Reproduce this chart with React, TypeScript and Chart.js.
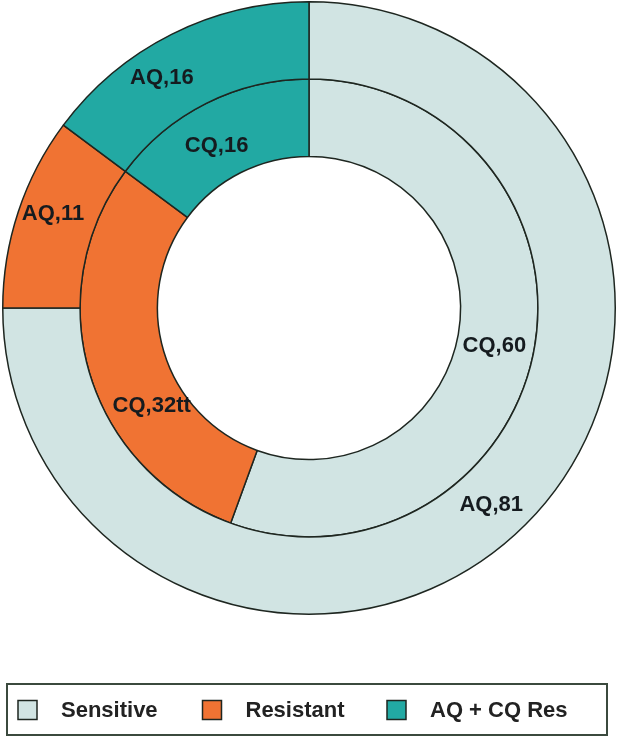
import React, { useEffect, useRef } from 'react';
import { Chart, registerables } from 'chart.js';

Chart.register(...registerables);

// segment categories (legend order)
const categories = ['Sensitive', 'Resistant', 'AQ + CQ Res'];
// outer ring = AQ, inner ring = CQ
const aqValues = [81, 11, 16];
const cqValues = [60, 32, 16];
const aqLabels = ['AQ,81', 'AQ,11', 'AQ,16'];
const cqLabels = ['CQ,60', 'CQ,32tt', 'CQ,16'];
const sliceColors = ['#d1e4e3', '#f07333', '#22a9a3'];

const FONT = '"Liberation Sans", Arial, Helvetica, sans-serif';
const EDGE = '#1e2620';

// hand nudges (px) off each arc's centroid, to sit where the original has them
const labelNudges = [
  [[-7, 8], [-2, -10], [-27, 9]],
  [[-2, 5], [25, 43], [-7, 8]],
];

const ringLabels = {
  id: 'ringLabels',
  afterDatasetsDraw(chart: any) {
    const { ctx } = chart;
    const texts = [aqLabels, cqLabels];
    ctx.save();
    ctx.font = `bold 22px ${FONT}`;
    ctx.fillStyle = '#151b1f';
    ctx.textAlign = 'center';
    ctx.textBaseline = 'middle';
    chart.data.datasets.forEach((_ds: any, di: number) => {
      chart.getDatasetMeta(di).data.forEach((arc: any, i: number) => {
        const p = arc.tooltipPosition(false);
        const [dx, dy] = labelNudges[di][i];
        ctx.fillText(texts[di][i], p.x + dx, p.y + dy);
      });
    });
    ctx.restore();
  },
};

// boxed legend row under the rings (the built-in one wraps at this spacing)
const legendRow = {
  id: 'legendRow',
  afterDraw(chart: any) {
    const { ctx } = chart;
    const colors = chart.data.datasets[0].backgroundColor as string[];
    const frameTop = chart.chartArea.bottom + 69;
    const mid = frameTop + 26;
    ctx.save();
    ctx.strokeStyle = '#3b4a3e';
    ctx.lineWidth = 2;
    ctx.strokeRect(7, frameTop, 600, 51);
    ctx.font = `bold 22px ${FONT}`;
    ctx.textAlign = 'left';
    ctx.textBaseline = 'middle';
    (chart.data.labels as string[]).forEach((name, i) => {
      const x = 18 + i * 184.5;
      ctx.fillStyle = colors[i];
      ctx.fillRect(x, mid - 9.5, 19, 19);
      ctx.strokeStyle = EDGE;
      ctx.lineWidth = 1.5;
      ctx.strokeRect(x, mid - 9.5, 19, 19);
      ctx.fillStyle = '#222222';
      ctx.fillText(name, x + 19 + 24, mid + 1);
    });
    ctx.restore();
  },
};

export default function App() {
  const canvasRef = useRef<HTMLCanvasElement | null>(null);

  useEffect(() => {
    if (!canvasRef.current) return;
    const chart = new Chart(canvasRef.current, {
      type: 'doughnut',
      data: {
        labels: categories,
        datasets: [
          {
            label: 'AQ',
            data: aqValues,
            backgroundColor: sliceColors,
            borderColor: EDGE,
            borderWidth: 1.5,
          },
          {
            label: 'CQ',
            data: cqValues,
            backgroundColor: sliceColors,
            borderColor: EDGE,
            borderWidth: 1.5,
          },
        ],
      },
      options: {
        responsive: false,
        animation: false,
        cutout: '49.5%',
        layout: { padding: { top: 1, bottom: 124, left: 2, right: 2 } },
        plugins: {
          tooltip: { enabled: false },
          legend: { display: false },
        },
      },
      plugins: [ringLabels, legendRow],
    });
    return () => chart.destroy();
  }, []);

  return (
    <div style={{ position: 'absolute', left: 0, top: 0, width: 618, height: 739, background: '#fff' }}>
      <canvas ref={canvasRef} width={618} height={739} style={{ display: 'block' }} />
    </div>
  );
}
